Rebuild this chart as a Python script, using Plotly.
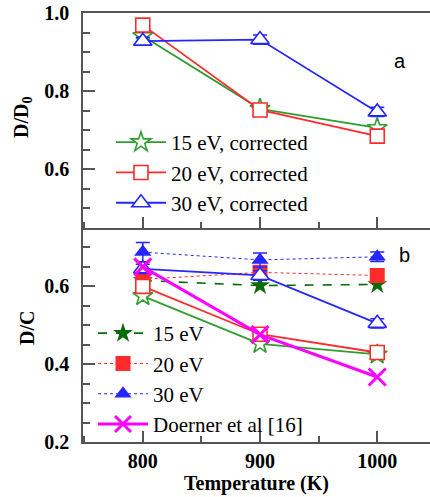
import plotly.graph_objects as go

temperature = [800, 900, 1000]

# Panel a: normalised deuterium retention D/D0 (corrected)
dd0_15ev = [0.941, 0.755, 0.706]
dd0_20ev = [0.969, 0.752, 0.685]
dd0_30ev = [0.928, 0.932, 0.747]
dd0_15ev_err = [0.006, 0.006, 0.008]
dd0_20ev_err = [0.006, 0.006, 0.008]
dd0_30ev_err = [0.010, 0.012, 0.012]

# Panel b: D/C ratio, raw (filled) and corrected (open), plus Doerner et al
dc_15ev = [0.615, 0.602, 0.605]
dc_20ev = [0.618, 0.636, 0.628]
dc_30ev = [0.688, 0.668, 0.676]
dc_30ev_err = [0.025, 0.018, 0.012]
dc_15ev_corr = [0.575, 0.452, 0.425]
dc_20ev_corr = [0.600, 0.477, 0.430]
dc_30ev_corr = [0.645, 0.628, 0.505]
dc_30ev_corr_err = [0.012, 0.012, 0.012]
dc_doerner = [0.650, 0.476, 0.367]

GREEN = "#2f9e2f"
DKGREEN = "#0b6b0b"
RED = "#ff2b2b"
BLUE = "#2626ff"
MAGENTA = "#ff00ff"
SERIF = "Liberation Serif, Times New Roman, Times, serif"
SANS = "Liberation Sans, Arial, sans-serif"
AXIS = "#555555"

fig = go.Figure()


def err(vals, color):
    return dict(type="data", array=vals, visible=True, color=color, thickness=1.5, width=7)


# ---- panel a ----
for name, y, e, sym, col, size in [
    ("15 eV, corrected", dd0_15ev, dd0_15ev_err, "star", GREEN, 15),
    ("20 eV, corrected", dd0_20ev, dd0_20ev_err, "square", RED, 14),
    ("30 eV, corrected", dd0_30ev, dd0_30ev_err, "triangle-up", BLUE, 16),
]:
    fig.add_trace(go.Scatter(
        x=temperature, y=y, name=name, mode="lines+markers",
        xaxis="x2", yaxis="y2", legend="legend",
        line=dict(color=col, width=1.8),
        marker=dict(symbol=sym, size=size, color="white", line=dict(color=col, width=1.6)),
        error_y=err(e, col),
    ))

# ---- panel b: raw values ----
for name, y, e, sym, col, dash, lw in [
    ("15 eV", dc_15ev, None, "star", DKGREEN, "dash", 1.6),
    ("20 eV", dc_20ev, None, "square", RED, "dot", 1.0),
    ("30 eV", dc_30ev, dc_30ev_err, "triangle-up", BLUE, "dot", 1.0),
]:
    fig.add_trace(go.Scatter(
        x=temperature, y=y, name=name, mode="lines+markers",
        xaxis="x", yaxis="y", legend="legend2",
        line=dict(color=col, width=lw, dash=dash),
        marker=dict(symbol=sym, size=15, color=col, line=dict(width=0)),
        error_y=err(e, col) if e else None,
    ))

# ---- panel b: corrected values ----
for y, e, sym, col, size in [
    (dc_15ev_corr, None, "star", GREEN, 15),
    (dc_20ev_corr, None, "square", RED, 14),
    (dc_30ev_corr, dc_30ev_corr_err, "triangle-up", BLUE, 16),
]:
    fig.add_trace(go.Scatter(
        x=temperature, y=y, mode="lines+markers", showlegend=False,
        xaxis="x", yaxis="y",
        line=dict(color=col, width=1.8),
        marker=dict(symbol=sym, size=size, color="white", line=dict(color=col, width=1.6)),
        error_y=err(e, col) if e else None,
    ))

fig.add_trace(go.Scatter(
    x=temperature, y=dc_doerner, name="Doerner et al [16]", mode="lines+markers",
    xaxis="x", yaxis="y", legend="legend2",
    line=dict(color=MAGENTA, width=3),
    marker=dict(symbol="x-thin", size=17, color=MAGENTA, line=dict(color=MAGENTA, width=3)),
))

tickfont = dict(family=SERIF, size=20, color="black", weight="bold")
common_x = dict(
    range=[749, 1045], tickvals=temperature, ticks="inside", ticklen=11, tickwidth=1.5,
    tickcolor=AXIS, showline=True, linecolor=AXIS, linewidth=1.5, showgrid=False,
    zeroline=False, minor=dict(dtick=50, tick0=750, ticks="inside", ticklen=6,
                               tickwidth=1.5, tickcolor=AXIS),
)
common_y = dict(
    dtick=0.2, tick0=0, tickformat=".1f", ticks="inside", ticklen=12, tickwidth=1.5,
    tickcolor=AXIS, showline=True, linecolor=AXIS, linewidth=1.5, showgrid=False,
    zeroline=False, tickfont=tickfont, ticklabelstandoff=8,
    minor=dict(dtick=0.05, ticks="inside", ticklen=7, tickwidth=1.5, tickcolor=AXIS),
)
title_font = dict(family=SERIF, size=20, color="black", weight="bold")
legend_font = dict(family=SERIF, size=21, color="black")
split = 214 / 429


def px_x(px):
    return (px - 83) / 347


def px_y(px):
    return (442 - px) / 429


fig.update_layout(
    width=430, height=497,
    margin=dict(l=83, r=0, t=13, b=55),
    paper_bgcolor="white", plot_bgcolor="white",
    font=dict(family=SERIF, color="black"),
    xaxis=dict(**common_x, anchor="y", tickfont=tickfont, ticklabelstandoff=0,
               title=dict(text="Temperature (K)", font=title_font, standoff=3)),
    yaxis=dict(**common_y, domain=[0, split], range=[0.2, 0.75], anchor="x"),
    xaxis2=dict(**common_x, anchor="y2", matches="x", showticklabels=False, mirror=True),
    yaxis2=dict(**common_y, domain=[split, 1], range=[0.45, 1.0], anchor="x2"),
    legend=dict(x=px_x(111), y=px_y(122), xanchor="left", yanchor="top",
                bgcolor="rgba(0,0,0,0)", font=legend_font, itemwidth=50, tracegroupgap=0),
    legend2=dict(x=px_x(93), y=px_y(313), xanchor="left", yanchor="top",
                 bgcolor="rgba(0,0,0,0)", font=legend_font, itemwidth=50, tracegroupgap=0),
    annotations=[
        # y-axis titles
        dict(text="D/D<sub>0</sub>", x=px_x(22), y=px_y(118), xref="paper", yref="paper",
             textangle=-90, showarrow=False, xanchor="center", yanchor="middle",
             font=title_font),
        dict(text="D/C", x=px_x(27), y=px_y(328), xref="paper", yref="paper",
             textangle=-90, showarrow=False, xanchor="center", yanchor="middle",
             font=title_font),
        # panel labels
        dict(text="a", x=px_x(408), y=px_y(48), xref="paper", yref="paper",
             showarrow=False, font=dict(family=SANS, size=20, color="black")),
        dict(text="b", x=px_x(412), y=px_y(255), xref="paper", yref="paper",
             showarrow=False, font=dict(family=SANS, size=20, color="black")),
    ],
)

fig.write_html("out.html")
